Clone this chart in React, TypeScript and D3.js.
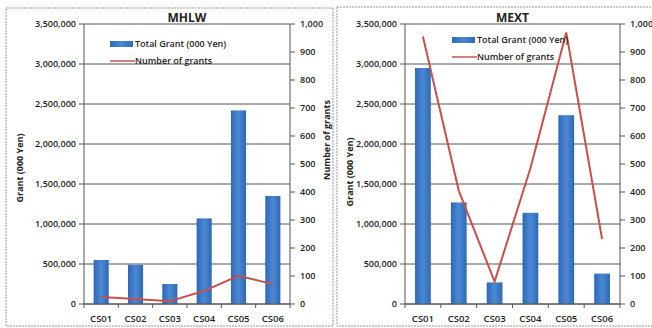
import React from "react";
import * as d3 from "d3";

// Grant recipients (CSO = civil society organisation)
const categories = ["CS01", "CS02", "CS03", "CS04", "CS05", "CS06"];

// MHLW: total grant (000 Yen) and number of grants
const mhlwGrant = [550000, 490000, 250000, 1070000, 2420000, 1350000];
const mhlwCount = [25, 18, 10, 47, 101, 71];

// MEXT: total grant (000 Yen) and number of grants
const mextGrant = [2950000, 1270000, 270000, 1140000, 2360000, 380000];
const mextCount = [955, 405, 80, 485, 970, 232];

const grantTicks = [0, 500000, 1000000, 1500000, 2000000, 2500000, 3000000, 3500000];
const countTicks = [0, 100, 200, 300, 400, 500, 600, 700, 800, 900, 1000];

const seriesNames = ["Total Grant (000 Yen)", "Number of grants"];
const grantAxisTitle = "Grant (000 Yen)";
const countAxisTitle = "Number of grants";

const FONT = "'Open Sans', 'DejaVu Sans', sans-serif";
const TEXT = "#222";
const GRID = "#555";
const LINE = "#c8504c";

type PanelProps = {
  id: string;
  title: string;
  grant: number[];
  count: number[];
  frame: [number, number, number, number];
  plot: { left: number; right: number; top: number; bottom: number };
  leftTitleX: number;
  leftTitleY: number;
  rightTitle: boolean;
  rightTitleX: number;
  rightTitleY: number;
  legendX: number;
  legendY: number;
};

function Panel(p: PanelProps) {
  const { plot } = p;
  const x = d3
    .scaleBand<string>()
    .domain(categories)
    .range([plot.left, plot.right])
    .paddingInner(0.56)
    .paddingOuter(0.28);
  const yGrant = d3.scaleLinear().domain([0, 3500000]).range([plot.bottom, plot.top]);
  const yCount = d3.scaleLinear().domain([0, 1000]).range([plot.bottom, plot.top]);
  const fmt = d3.format(",");
  const line = d3
    .line<number>()
    .x((_, i) => (x(categories[i]) as number) + x.bandwidth() / 2)
    .y((d) => yCount(d));
  const step = (plot.right - plot.left) / categories.length;
  const [fx, fy, fw, fh] = p.frame;

  return (
    <g>
      <rect x={fx} y={fy} width={fw} height={fh} fill="#fff" stroke="#999" strokeWidth={1} strokeDasharray="2 1" />
      {/* gridlines */}
      {grantTicks.map((t) => (
        <line key={"g" + t} x1={plot.left} x2={plot.right} y1={yGrant(t)} y2={yGrant(t)} stroke={GRID} strokeWidth={1} />
      ))}
      {/* bars */}
      {p.grant.map((v, i) => (
        <rect
          key={"b" + i}
          x={x(categories[i])}
          y={yGrant(v)}
          width={x.bandwidth()}
          height={plot.bottom - yGrant(v)}
          fill={`url(#barGrad-${p.id})`}
        />
      ))}
      {/* axes */}
      <line x1={plot.left} x2={plot.left} y1={plot.top} y2={plot.bottom} stroke={GRID} />
      <line x1={plot.right} x2={plot.right} y1={plot.top} y2={plot.bottom} stroke={GRID} />
      <line x1={plot.left} x2={plot.right} y1={plot.bottom} y2={plot.bottom} stroke={GRID} />
      {grantTicks.map((t) => (
        <g key={"lt" + t}>
          <line x1={plot.left - 5} x2={plot.left} y1={yGrant(t)} y2={yGrant(t)} stroke={GRID} />
          <text x={plot.left - 8} y={yGrant(t)} dy="0.35em" textAnchor="end" fontSize={9} fontWeight={600}>
            {fmt(t)}
          </text>
        </g>
      ))}
      {countTicks.map((t) => (
        <g key={"rt" + t}>
          <line x1={plot.right} x2={plot.right + 5} y1={yCount(t)} y2={yCount(t)} stroke={GRID} />
          <text x={plot.right + 10} y={yCount(t)} dy="0.35em" textAnchor="start" fontSize={9} fontWeight={600}>
            {fmt(t)}
          </text>
        </g>
      ))}
      {d3.range(categories.length + 1).map((i) => (
        <line
          key={"xt" + i}
          x1={plot.left + i * step}
          x2={plot.left + i * step}
          y1={plot.bottom}
          y2={plot.bottom + 4}
          stroke={GRID}
        />
      ))}
      {categories.map((c) => (
        <text
          key={"xl" + c}
          x={(x(c) as number) + x.bandwidth() / 2}
          y={plot.bottom + 15}
          dy="0.35em"
          textAnchor="middle"
          fontSize={9.5}
          fontWeight={600}
        >
          {c}
        </text>
      ))}
      {/* number of grants */}
      <path d={line(p.count) || ""} fill="none" stroke={LINE} strokeWidth={2} />
      {/* titles */}
      <text x={(plot.left + plot.right) / 2} y={plot.top - 2} textAnchor="middle" fontSize={12} fontWeight={700}>
        {p.title}
      </text>
      <text
        transform={`translate(${p.leftTitleX},${p.leftTitleY}) rotate(-90)`}
        textAnchor="middle"
        dy="0.35em"
        fontSize={9}
        fontWeight={700}
      >
        {grantAxisTitle}
      </text>
      {p.rightTitle && (
        <text
          transform={`translate(${p.rightTitleX},${p.rightTitleY}) rotate(-90)`}
          textAnchor="middle"
          dy="0.35em"
          fontSize={9}
          fontWeight={700}
        >
          {countAxisTitle}
        </text>
      )}
      {/* legend */}
      <rect x={p.legendX} y={p.legendY - 3} width={23} height={6} fill={`url(#barGrad-${p.id})`} />
      <text x={p.legendX + 25} y={p.legendY} dy="0.35em" fontSize={9} fontWeight={600}>
        {seriesNames[0]}
      </text>
      <line x1={p.legendX} x2={p.legendX + 25} y1={p.legendY + 17} y2={p.legendY + 17} stroke={LINE} strokeWidth={1.5} />
      <text x={p.legendX + 25} y={p.legendY + 17} dy="0.35em" fontSize={9} fontWeight={600}>
        {seriesNames[1]}
      </text>
    </g>
  );
}

export default function App() {
  return (
    <svg
      width={652}
      height={328}
      style={{ position: "absolute", left: 0, top: 0, display: "block" }}
      fontFamily={FONT}
      fill={TEXT}
    >
      <defs>
        {["mhlw", "mext"].map((id) => (
          <linearGradient key={id} id={`barGrad-${id}`} x1="0" x2="1" y1="0" y2="0">
            <stop offset="0" stopColor="#2f68b4" />
            <stop offset="0.5" stopColor="#4a89d4" />
            <stop offset="1" stopColor="#2f68b4" />
          </linearGradient>
        ))}
      </defs>
      <rect width={652} height={328} fill="#fff" />
      <Panel
        id="mhlw"
        title="MHLW"
        grant={mhlwGrant}
        count={mhlwCount}
        frame={[6, 8, 327, 318]}
        plot={{ left: 84, right: 290, top: 24, bottom: 304 }}
        leftTitleX={20}
        leftTitleY={168}
        rightTitle={true}
        rightTitleX={327}
        rightTitleY={140}
        legendX={110}
        legendY={44}
      />
      <Panel
        id="mext"
        title="MEXT"
        grant={mextGrant}
        count={mextCount}
        frame={[337, 7, 330, 319]}
        plot={{ left: 405, right: 620, top: 24, bottom: 304 }}
        leftTitleX={350}
        leftTitleY={172}
        rightTitle={false}
        rightTitleX={660}
        rightTitleY={140}
        legendX={452}
        legendY={40}
      />
    </svg>
  );
}
